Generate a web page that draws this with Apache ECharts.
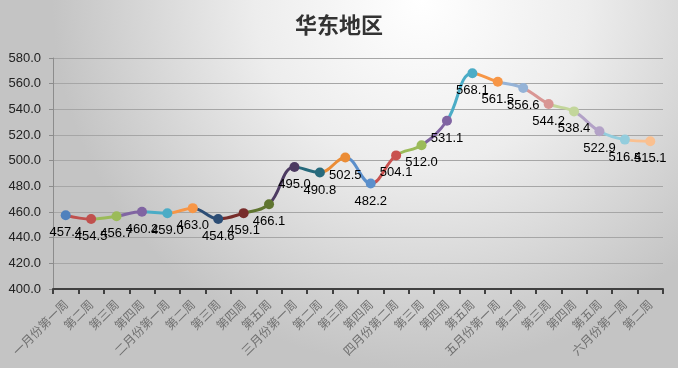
<!DOCTYPE html>
<html><head><meta charset="utf-8">
<script src="https://cdn.jsdelivr.net/npm/echarts@6/dist/echarts.min.js"></script>
<style>html,body{margin:0;padding:0;}#c{width:678px;height:368px;}</style>
</head><body><div id="c"></div>
<script>
var categories = ['一月份第一周','第二周','第三周','第四周','二月份第一周','第二周','第三周','第四周','第五周','三月份第一周','第二周','第三周','第四周','四月份第二周','第三周','第四周','第五周','五月份第一周','第二周','第三周','第四周','第五周','六月份第一周','第二周'];
var values = [457.4,454.5,456.7,460.2,459.0,463.0,454.6,459.1,466.1,495.0,490.8,502.5,482.2,504.1,512.0,531.1,568.1,561.5,556.6,544.2,538.4,522.9,516.4,515.1];
var pointColors = ['#4F81BD','#C0504D','#9BBB59','#8064A2','#4BACC6','#F79646',
  '#2C4D75','#772C2A','#5F7530','#4D3B62','#276A7C','#EB8C35',
  '#5B8FCB','#C9524F','#9BBB59','#8064A2','#4BACC6','#F79646',
  '#95B3D7','#D99694','#C3D69B','#B3A2C7','#93CDDD','#FAC090'];
var yTicks = {min:400, max:580, interval:20};

var pieces = pointColors.map(function(c,i){
  return i===0 ? {lte:0, color:c} : {gt:i-1, lte:i, color:c};
});
var chart = echarts.init(document.getElementById('c'));
chart.setOption({
  backgroundColor: {type:'radial', x:0.62, y:0.0, r:1.0,
    colorStops:[{offset:0,color:'#ffffff'},{offset:0.45,color:'#ededed'},{offset:1,color:'#c4c4c4'}]},
  title: {text:'华东地区', left:'center', top:9,
    textStyle:{fontFamily:'Noto Sans CJK SC', fontSize:22, fontWeight:'bold', color:'#333333'}},
  grid: {left:53, right:15, top:58, bottom:79},
  visualMap: {type:'piecewise', show:false, dimension:0, seriesIndex:0, pieces:pieces},
  xAxis: {type:'category', data:categories, boundaryGap:true,
    axisLine:{lineStyle:{color:'#404040', width:2}},
    axisTick:{show:true, interval:0, length:5, lineStyle:{color:'#404040', width:2}},
    axisLabel:{interval:0, rotate:45, margin:13, color:'#707070', fontSize:12, fontFamily:'Noto Sans CJK SC'}},
  yAxis: {type:'value', min:yTicks.min, max:yTicks.max, interval:yTicks.interval,
    axisLine:{show:true, lineStyle:{color:'#8c8c8c'}},
    axisTick:{show:true, length:4, lineStyle:{color:'#8c8c8c'}},
    splitLine:{lineStyle:{color:'#a6a6a6'}},
    axisLabel:{margin:12, color:'#222222', fontSize:13, fontFamily:'Liberation Sans Narrow, Liberation Sans',
      formatter:function(v){return v.toFixed(1);}}},
  series: [{type:'line', data:values, smooth:0.4, symbol:'circle', symbolSize:10,
    lineStyle:{width:3}, itemStyle:{borderWidth:0},
    label:{show:true, position:'bottom', distance:6, color:'#000000', fontSize:13,
      fontFamily:'Liberation Sans Narrow, Liberation Sans',
      formatter:function(p){return p.value.toFixed(1);}},
    animation:false}]
});
</script></body></html>
